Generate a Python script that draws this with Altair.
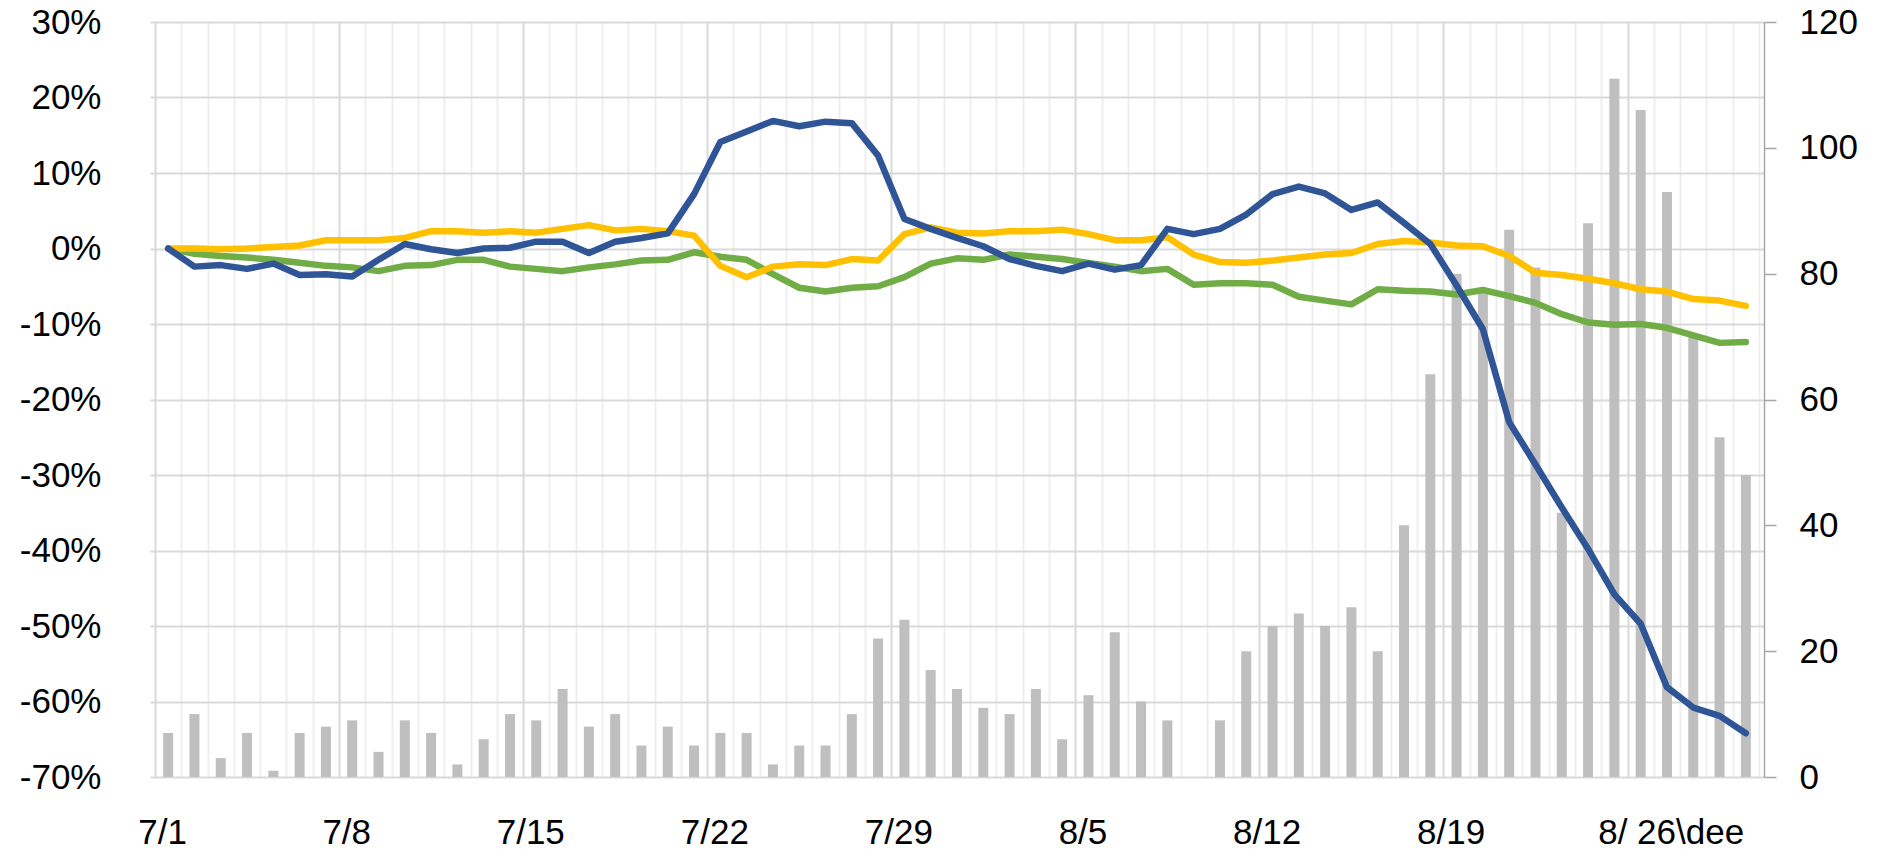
import json
import altair as alt
import pandas as pd

# ---- data ----
dates = ["7/1", "7/2", "7/3", "7/4", "7/5", "7/6", "7/7", "7/8", "7/9", "7/10",
         "7/11", "7/12", "7/13", "7/14", "7/15", "7/16", "7/17", "7/18", "7/19", "7/20",
         "7/21", "7/22", "7/23", "7/24", "7/25", "7/26", "7/27", "7/28", "7/29", "7/30",
         "7/31", "8/1", "8/2", "8/3", "8/4", "8/5", "8/6", "8/7", "8/8", "8/9",
         "8/10", "8/11", "8/12", "8/13", "8/14", "8/15", "8/16", "8/17", "8/18", "8/19",
         "8/20", "8/21", "8/22", "8/23", "8/24", "8/25", "8/26", "8/27", "8/28", "8/29",
         "8/30"]

cases = [7, 10, 3, 7, 1, 7, 8, 9, 4, 9,
         7, 2, 6, 10, 9, 14, 8, 10, 5, 8,
         5, 7, 7, 2, 5, 5, 10, 22, 25, 17,
         14, 11, 10, 14, 6, 13, 23, 12, 9, 0,
         9, 20, 24, 26, 24, 27, 20, 40, 64, 80,
         77, 87, 81, 42, 88, 111, 106, 93, 70, 54,
         48]

blue = [0.0, -2.4, -2.2, -2.7, -2.0, -3.5, -3.4, -3.7, -1.5, 0.6,
        -0.1, -0.6, 0.0, 0.1, 0.9, 0.9, -0.6, 0.9, 1.4, 2.0,
        7.2, 14.1, 15.5, 16.9, 16.2, 16.8, 16.6, 12.3, 3.9, 2.6,
        1.4, 0.3, -1.4, -2.3, -3.0, -2.0, -2.8, -2.2, 2.6, 1.9,
        2.6, 4.5, 7.2, 8.2, 7.3, 5.1, 6.1, 3.4, 0.6, -4.9,
        -10.7, -23.0, -28.6, -34.3, -39.8, -45.8, -49.7, -58.1, -60.8, -61.9,
        -64.2]

yellow = [0.0, 0.0, -0.1, 0.0, 0.2, 0.4, 1.1, 1.1, 1.1, 1.4,
          2.3, 2.3, 2.1, 2.3, 2.1, 2.6, 3.1, 2.4, 2.6, 2.3,
          1.7, -2.3, -3.8, -2.4, -2.1, -2.2, -1.4, -1.6, 1.9, 2.8,
          2.1, 2.0, 2.3, 2.3, 2.5, 1.9, 1.1, 1.1, 1.5, -0.8,
          -1.8, -1.9, -1.6, -1.2, -0.8, -0.6, 0.6, 1.0, 0.8, 0.4,
          0.3, -1.0, -3.2, -3.5, -4.0, -4.6, -5.4, -5.7, -6.7, -6.9,
          -7.6]

green = [0.0, -0.7, -1.0, -1.2, -1.5, -1.9, -2.3, -2.5, -3.0, -2.3,
         -2.2, -1.5, -1.5, -2.4, -2.7, -3.0, -2.5, -2.1, -1.6, -1.5,
         -0.5, -1.1, -1.5, -3.4, -5.2, -5.7, -5.2, -5.0, -3.8, -2.0,
         -1.3, -1.5, -0.8, -1.1, -1.4, -1.9, -2.4, -3.0, -2.7, -4.8,
         -4.6, -4.6, -4.8, -6.4, -6.9, -7.4, -5.4, -5.6, -5.7, -6.1,
         -5.5, -6.3, -7.2, -8.7, -9.8, -10.1, -10.0, -10.5, -11.5, -12.5,
         -12.4]

tick_labels = ["7/1", "7/8", "7/15", "7/22", "7/29", "8/5", "8/12", "8/19", "8/ 26\\dee"]
y_left_ticks = [-70, -60, -50, -40, -30, -20, -10, 0, 10, 20, 30]
y_right_ticks = [0, 20, 40, 60, 80, 100, 120]

# ---- tables ----
n = len(dates)
df_bar = pd.DataFrame({"idx": list(range(n)), "date": dates, "cases": cases})


def line_df(vals):
    return pd.DataFrame({"idx": list(range(n)), "date": dates, "value": vals})


label_step = 7
grid_vals = list(range(n + 1))
label_vals = [k * label_step + 0.5 for k in range(len(tick_labels))]
x_values = sorted(grid_vals + label_vals)
label_js = json.dumps(tick_labels)
last_test = f"datum.value > {label_vals[-1] - 1}"

FONT = "Liberation Sans, Arial, sans-serif"

x_scale = alt.Scale(domain=[0, n], nice=False, zero=False)
x_axis = alt.Axis(
    values=x_values, title=None, ticks=False, tickSize=0, domain=False,
    grid=True, gridWidth=2,
    gridColor={"condition": {"test": "datum.value % 7 === 0", "value": "#D9D9D9"}, "value": "#EFEFEF"},
    gridOpacity={"condition": {"test": "datum.value % 1 !== 0", "value": 0}, "value": 1},
    labelExpr=f"datum.value % 1 !== 0 ? {label_js}[floor(datum.value / {label_step})] : ''",
    labelPadding=38, labelOverlap=False, labelFlush=False, labelBound=False, labelAngle=0,
    labelAlign={"condition": {"test": last_test, "value": "left"}, "value": "center"},
    labelOffset={"condition": {"test": last_test, "value": -43}, "value": -6},
)

y_left_axis = alt.Axis(
    values=y_left_ticks, title=None, orient="left", domain=False, ticks=False, tickSize=0,
    grid=True, gridColor="#D9D9D9", gridWidth=2,
    labelExpr="datum.value + '%'", labelPadding=49,
)

y_right_axis = alt.Axis(
    values=y_right_ticks, title=None, orient="right", grid=False,
    domain=True, domainColor="#A6A6A6", domainWidth=1.5,
    ticks=True, tickColor="#A6A6A6", tickWidth=1.5, tickSize=12,
    labelPadding=23,
)

bars = alt.Chart(df_bar).transform_calculate(pos="datum.idx + 0.5").mark_bar(
    size=10, color="#BFBFBF"
).encode(
    x=alt.X("pos:Q", scale=x_scale, axis=x_axis),
    y=alt.Y("cases:Q", scale=alt.Scale(domain=[0, 120], nice=False), axis=y_right_axis),
)


def line_layer(vals, color):
    return alt.Chart(line_df(vals)).transform_calculate(pos="datum.idx + 0.5").mark_line(
        color=color, strokeWidth=6.5, strokeCap="round", strokeJoin="round"
    ).encode(
        x=alt.X("pos:Q", scale=x_scale, axis=x_axis),
        y=alt.Y("value:Q", scale=alt.Scale(domain=[-70, 30], nice=False, zero=False), axis=y_left_axis),
    )


lines = alt.layer(
    line_layer(green, "#70AD47"),
    line_layer(yellow, "#FFC000"),
    line_layer(blue, "#2F5597"),
)

chart = alt.layer(bars, lines).resolve_scale(y="independent").properties(
    width=1614, height=755,
    autosize=alt.AutoSizeParams(type="none"),
    padding={"left": 142, "top": 14, "right": 104, "bottom": 74},
).configure_view(stroke=None).configure_axis(
    labelFont=FONT, labelFontSize=35, labelColor="#000000"
)

chart.save("out.html", embed_options={"renderer": "svg", "actions": False})
